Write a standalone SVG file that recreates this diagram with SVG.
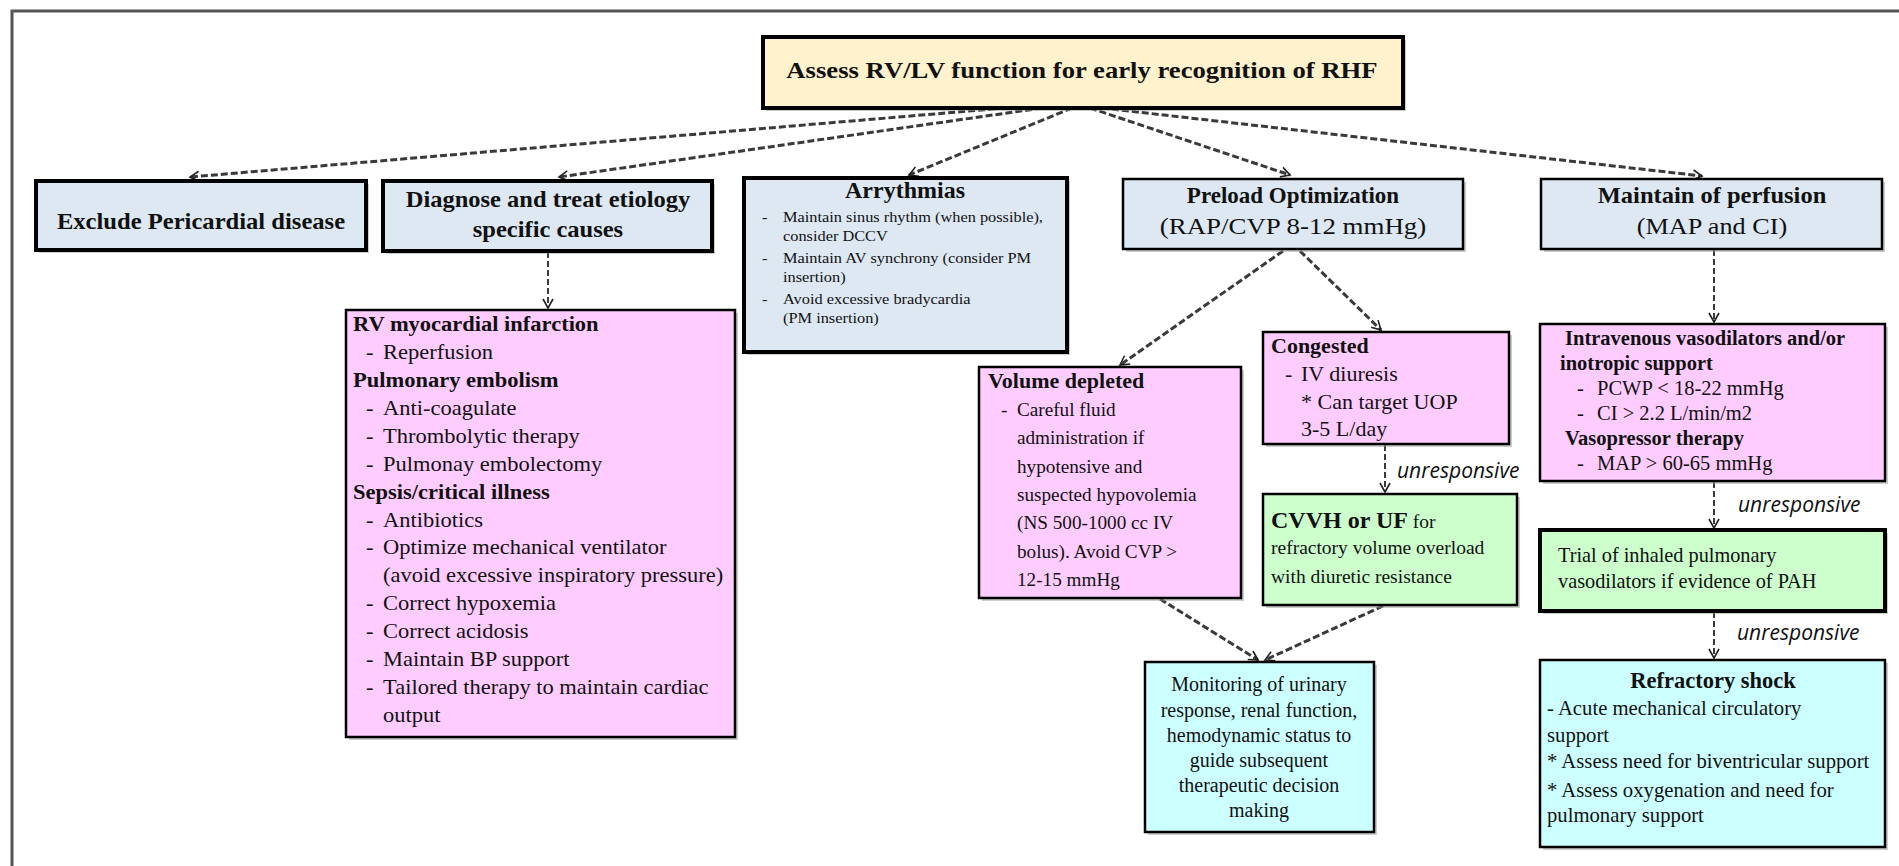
<svg xmlns="http://www.w3.org/2000/svg" width="1899" height="866" viewBox="0 0 1899 866">
<style>
.t{font-family:"Liberation Serif","Times New Roman",serif;fill:#111}
.b{font-weight:bold}
.c{text-anchor:middle}
.u{font-family:"Open Sans","Liberation Sans",sans-serif;font-style:italic;font-size:21px;fill:#111}
.thick{stroke:#000;stroke-width:4}
.thin{stroke:#000;stroke-width:2.5}
.sh{fill:#9a9a9a;opacity:0.5}
.fan{fill:none;stroke:#3a3a3a;stroke-width:3;stroke-dasharray:7 3}
.con{fill:none;stroke:#3a3a3a;stroke-width:2;stroke-dasharray:6 3}
</style>
<defs>
<marker id="ah" markerUnits="userSpaceOnUse" markerWidth="14" markerHeight="14" refX="10" refY="6" orient="auto">
<path d="M1,1 L10,6 L1,11" fill="none" stroke="#222" stroke-width="1.6"/>
</marker>
</defs>
<rect width="1899" height="866" fill="#fff"/>
<path d="M12,866 V11 H1899" fill="none" stroke="#555" stroke-width="3"/>

<g id="connectors">
<path class="fan" d="M1005,108 L190,177" marker-end="url(#ah)"/>
<path class="fan" d="M1042,108 L559,177" marker-end="url(#ah)"/>
<path class="fan" d="M1072,108 L909,175" marker-end="url(#ah)"/>
<path class="fan" d="M1090,108 L1290,175" marker-end="url(#ah)"/>
<path class="fan" d="M1102,108 L1702,176" marker-end="url(#ah)"/>
<path class="con" d="M548,252 L548,308" marker-end="url(#ah)"/>
<path class="fan" d="M1283,251 L1120,365" marker-end="url(#ah)"/>
<path class="fan" d="M1300,251 L1381,330" marker-end="url(#ah)"/>
<path class="con" d="M1385,445 L1385,492" marker-end="url(#ah)"/>
<path class="fan" d="M1160,599 L1258,660" marker-end="url(#ah)"/>
<path class="fan" d="M1383,606 L1265,660" marker-end="url(#ah)"/>
<path class="con" d="M1714,250 L1714,322" marker-end="url(#ah)"/>
<path class="con" d="M1714,482 L1714,528" marker-end="url(#ah)"/>
<path class="con" d="M1714,612 L1714,658" marker-end="url(#ah)"/>
<text class="u" x="1397" y="478">unresponsive</text>
<text class="u" x="1738" y="512">unresponsive</text>
<text class="u" x="1737" y="640">unresponsive</text>
</g>

<g id="n-top">
<rect class="sh" x="766" y="40" width="640" height="71"/>
<rect class="thick" x="763" y="37" width="640" height="71" fill="#fff2cc"/>
<text class="t b c" x="1082" y="78" font-size="23" transform="matrix(1.16,0,0,1,-173.12,0)">Assess RV/LV function for early recognition of RHF</text>
</g>

<g id="n-exclude">
<rect class="sh" x="39" y="184" width="330" height="69"/>
<rect class="thick" x="36" y="181" width="330" height="69" fill="#dde8f3"/>
<text class="t b c" x="201" y="229" font-size="23" transform="matrix(1.07,0,0,1,-14.07,0)">Exclude Pericardial disease</text>
</g>

<g id="n-diagnose">
<rect class="sh" x="386" y="184" width="329" height="70"/>
<rect class="thick" x="383" y="181" width="329" height="70" fill="#dde8f3"/>
<g transform="matrix(1.065,0,0,1,-35.62,0)">
<text class="t b c" x="548" y="207" font-size="23">Diagnose and treat etiology</text>
<text class="t b c" x="548" y="237" font-size="23">specific causes</text>
</g>
</g>

<g id="n-arrythmias">
<rect class="sh" x="747" y="181" width="323" height="174"/>
<rect class="thick" x="744" y="178" width="323" height="174" fill="#dde8f3"/>
<text class="t b c" x="905" y="198" font-size="24">Arrythmias</text>
<g class="t" font-size="15" transform="matrix(1.09,0,0,1,-68.58,0)">
<text x="762" y="222">-</text><text x="781.3" y="222">Maintain sinus rhythm (when possible),</text>
<text x="781.3" y="241">consider DCCV</text>
<text x="762" y="263">-</text><text x="781.3" y="263">Maintain AV synchrony (consider PM</text>
<text x="781.3" y="282">insertion)</text>
<text x="762" y="304">-</text><text x="781.3" y="304">Avoid excessive bradycardia</text>
<text x="781.3" y="323"> (PM insertion)</text>
</g>
</g>

<g id="n-preload">
<rect class="sh" x="1126" y="182" width="340" height="70"/>
<rect class="thin" x="1123" y="179" width="340" height="70" fill="#dde8f3"/>
<text class="t b c" x="1293" y="203" font-size="23">Preload Optimization</text>
<text class="t c" x="1293" y="234" font-size="23" transform="matrix(1.17,0,0,1,-219.81,0)">(RAP/CVP 8-12 mmHg)</text>
</g>

<g id="n-perfusion">
<rect class="sh" x="1544" y="182" width="341" height="70"/>
<rect class="thin" x="1541" y="179" width="341" height="70" fill="#dde8f3"/>
<text class="t b c" x="1712" y="203" font-size="23" transform="matrix(1.065,0,0,1,-111.28,0)">Maintain of perfusion</text>
<text class="t c" x="1712" y="234" font-size="23" transform="matrix(1.14,0,0,1,-239.68,0)">(MAP and CI)</text>
</g>

<g id="n-causes">
<rect class="sh" x="349" y="313" width="389" height="427"/>
<rect class="thin" x="346" y="310" width="389" height="427" fill="#ffccff"/>
<g class="t" font-size="20" transform="matrix(1.125,0,0,1,-44.125,0)">
<text class="b" x="353" y="331">RV myocardial infarction</text>
<text x="364.6" y="359">-</text><text x="379.7" y="359">Reperfusion</text>
<text class="b" x="353" y="387">Pulmonary embolism</text>
<text x="364.6" y="415">-</text><text x="379.7" y="415">Anti-coagulate</text>
<text x="364.6" y="443">-</text><text x="379.7" y="443">Thrombolytic therapy</text>
<text x="364.6" y="471">-</text><text x="379.7" y="471">Pulmonay embolectomy</text>
<text class="b" x="353" y="499">Sepsis/critical illness</text>
<text x="364.6" y="527">-</text><text x="379.7" y="527">Antibiotics</text>
<text x="364.6" y="554">-</text><text x="379.7" y="554">Optimize mechanical ventilator</text>
<text x="379.7" y="582">(avoid excessive inspiratory pressure)</text>
<text x="364.6" y="610">-</text><text x="379.7" y="610">Correct hypoxemia</text>
<text x="364.6" y="638">-</text><text x="379.7" y="638">Correct acidosis</text>
<text x="364.6" y="666">-</text><text x="379.7" y="666">Maintain BP support</text>
<text x="364.6" y="694">-</text><text x="379.7" y="694">Tailored therapy to maintain cardiac</text>
<text x="379.7" y="722">output</text>
</g>
</g>

<g id="n-volume">
<rect class="sh" x="982" y="370" width="262" height="231"/>
<rect class="thin" x="979" y="367" width="262" height="231" fill="#ffccff"/>
<g class="t" font-size="19.2">
<text class="b" x="988" y="388" font-size="22">Volume depleted</text>
<text x="1001" y="416">-</text><text x="1017" y="416">Careful fluid</text>
<text x="1017" y="444">administration if</text>
<text x="1017" y="473">hypotensive and</text>
<text x="1017" y="501">suspected hypovolemia</text>
<text x="1017" y="529">(NS 500-1000 cc IV</text>
<text x="1017" y="558">bolus). Avoid CVP &gt;</text>
<text x="1017" y="586">12-15 mmHg</text>
</g>
</g>

<g id="n-congested">
<rect class="sh" x="1266" y="335" width="246" height="112"/>
<rect class="thin" x="1263" y="332" width="246" height="112" fill="#ffccff"/>
<g class="t" font-size="22">
<text class="b" x="1271" y="353">Congested</text>
<text x="1285" y="381">-</text><text x="1301" y="381">IV diuresis</text>
<text x="1301" y="409">* Can target UOP</text>
<text x="1301" y="436">3-5 L/day</text>
</g>
</g>

<g id="n-cvvh">
<rect class="sh" x="1266" y="497" width="254" height="111"/>
<rect class="thin" x="1263" y="494" width="254" height="111" fill="#ccffcc"/>
<g class="t" font-size="19.5">
<text x="1271" y="528"><tspan class="b" font-size="24">CVVH or UF</tspan> for</text>
<text x="1271" y="554">refractory volume overload</text>
<text x="1271" y="583">with diuretic resistance</text>
</g>
</g>

<g id="n-monitor">
<rect class="sh" x="1148" y="665" width="229" height="170"/>
<rect class="thin" x="1145" y="662" width="229" height="170" fill="#ccffff"/>
<g class="t c" font-size="20">
<text x="1259" y="691">Monitoring of urinary</text>
<text x="1259" y="717">response, renal function,</text>
<text x="1259" y="742">hemodynamic status to</text>
<text x="1259" y="767">guide subsequent</text>
<text x="1259" y="792">therapeutic decision</text>
<text x="1259" y="817">making</text>
</g>
</g>

<g id="n-iv">
<rect class="sh" x="1543" y="327" width="345" height="157"/>
<rect class="thin" x="1540" y="324" width="345" height="157" fill="#ffccff"/>
<g class="t" font-size="20.5">
<text class="b" x="1565" y="345">Intravenous vasodilators and/or</text>
<text class="b" x="1560" y="370">inotropic support</text>
<text x="1577" y="395">-</text><text x="1597" y="395">PCWP &lt; 18-22 mmHg</text>
<text x="1577" y="420">-</text><text x="1597" y="420">CI &gt; 2.2 L/min/m2</text>
<text class="b" x="1565" y="445">Vasopressor therapy</text>
<text x="1577" y="470">-</text><text x="1597" y="470">MAP &gt; 60-65 mmHg</text>
</g>
</g>

<g id="n-trial">
<rect class="sh" x="1543" y="533" width="345" height="81"/>
<rect class="thick" x="1540" y="530" width="345" height="81" fill="#ccffcc"/>
<g class="t" font-size="20.3">
<text x="1558" y="562">Trial of inhaled pulmonary</text>
<text x="1558" y="588">vasodilators if evidence of PAH</text>
</g>
</g>

<g id="n-shock">
<rect class="sh" x="1543" y="663" width="345" height="187"/>
<rect class="thin" x="1540" y="660" width="345" height="187" fill="#ccffff"/>
<g class="t" font-size="20.7">
<text class="b c" x="1713" y="688" font-size="22.5">Refractory shock</text>
<text x="1547" y="715">- Acute mechanical circulatory</text>
<text x="1547" y="742">support</text>
<text x="1547" y="768">* Assess need for biventricular support</text>
<text x="1547" y="797">* Assess oxygenation and need for</text>
<text x="1547" y="822">pulmonary support</text>
</g>
</g>
</svg>
